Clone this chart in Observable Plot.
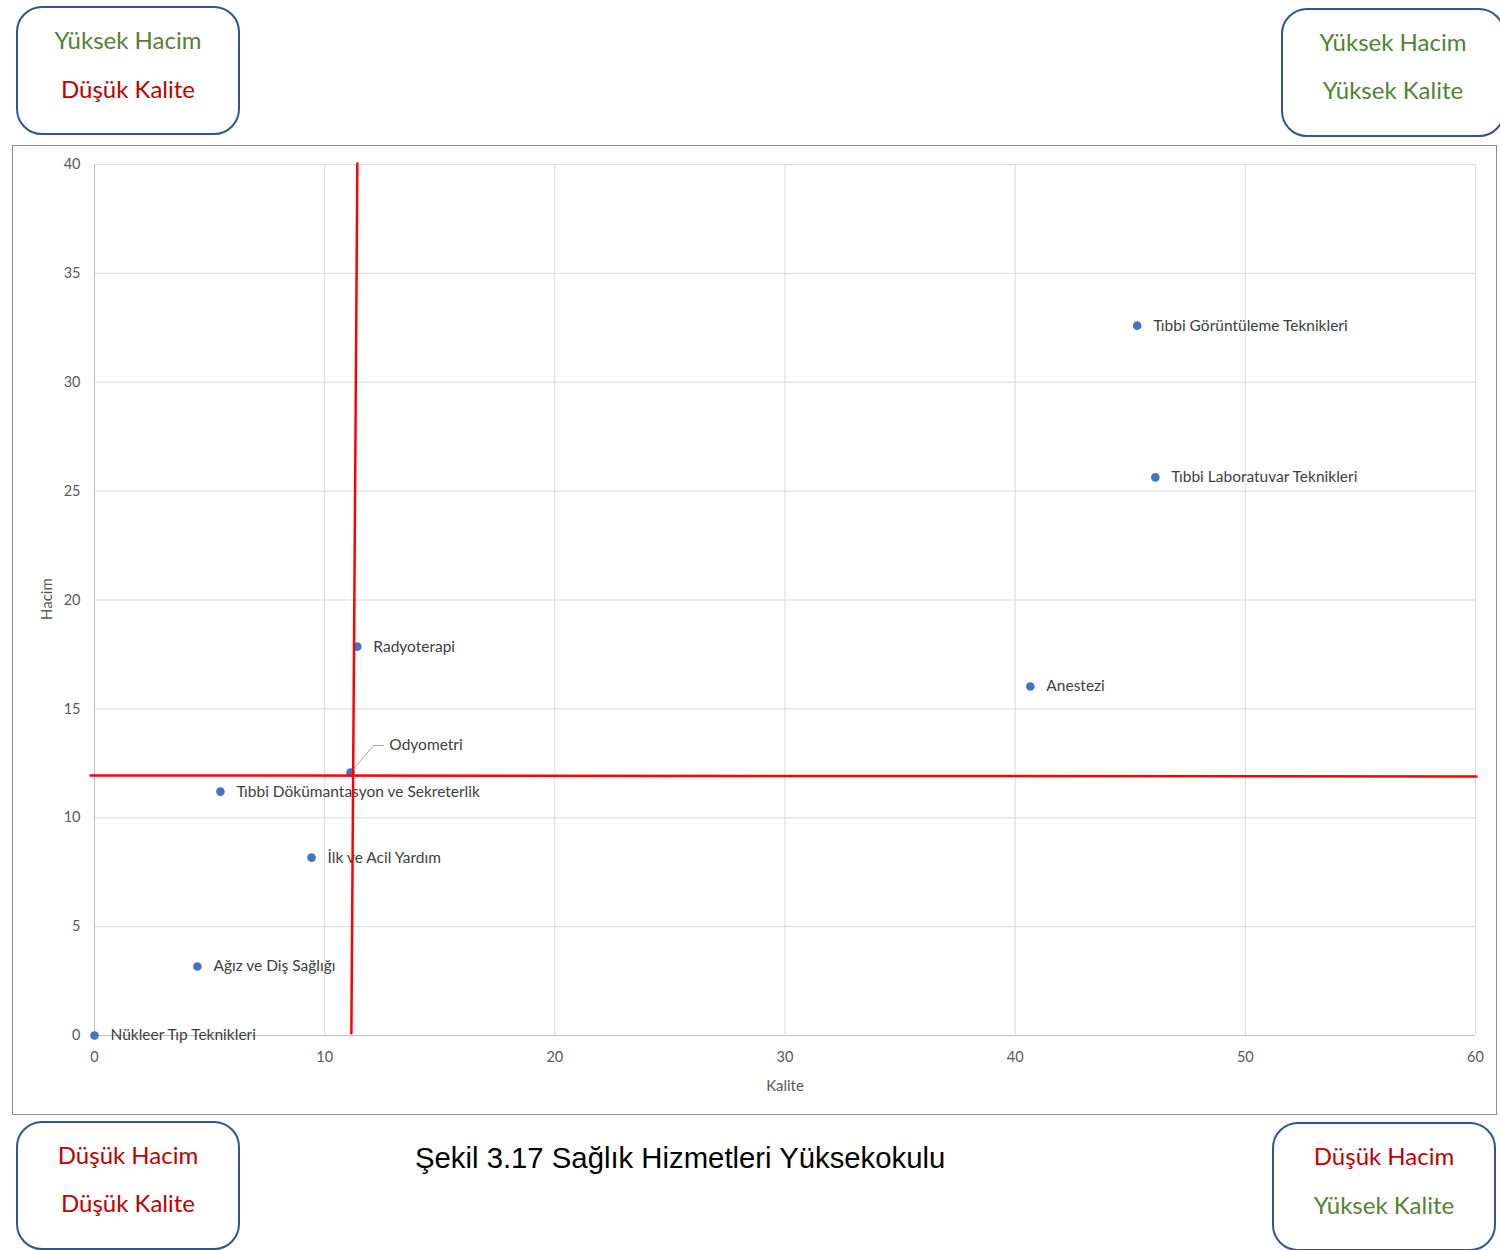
<!DOCTYPE html>
<html>
<head>
<meta charset="utf-8">
<script src="https://cdn.jsdelivr.net/npm/d3@7"></script>
<script src="https://cdn.jsdelivr.net/npm/@observablehq/plot@0.6"></script>
<style>
  html, body { margin: 0; padding: 0; background: #fff; }
  #page { position: relative; width: 1500px; height: 1250px; overflow: hidden; font-family: Lato, "Open Sans", sans-serif; }
  #frame { position: absolute; left: 12px; top: 145px; width: 1485px; height: 970px; border: 1px solid #8c8c8c; box-sizing: border-box; }
  #chart { position: absolute; left: 12px; top: 145px; }
  .box { position: absolute; width: 224px; height: 129px; border: 2px solid #2F5597; border-radius: 26px; background: #fff; box-sizing: border-box; font-family: Lato, "Open Sans", sans-serif; font-size: 24px; text-align: center; }
  .box div { position: absolute; left: 0; right: 0; }
  .green { color: #538135; }
  .red { color: #C00000; }
  #caption { position: absolute; left: 415px; top: 1141px; font-family: "Liberation Sans", Arial, sans-serif; font-size: 29.3px; color: #000; white-space: nowrap; }
</style>
</head>
<body>
<div id="page">
  <div id="frame"></div>
  <div id="chart"></div>
  <div class="box" style="left:16px; top:6px;"><div class="green" style="top:17px">Yüksek Hacim</div><div class="red" style="top:66px">Düşük Kalite</div></div>
  <div class="box" style="left:1281px; top:8px;"><div class="green" style="top:17px">Yüksek Hacim</div><div class="green" style="top:65px">Yüksek Kalite</div></div>
  <div class="box" style="left:16px; top:1121px;"><div class="red" style="top:17px">Düşük Hacim</div><div class="red" style="top:65px">Düşük Kalite</div></div>
  <div class="box" style="left:1272px; top:1122px;"><div class="red" style="top:17px">Düşük Hacim</div><div class="green" style="top:66px">Yüksek Kalite</div></div>
  <div id="caption">Şekil 3.17 Sağlık Hizmetleri Yüksekokulu</div>
</div>
<script>
// ---- data ----
const programs = ["Nükleer Tıp Teknikleri", "Ağız ve Diş Sağlığı", "İlk ve Acil Yardım", "Tıbbi Dökümantasyon ve Sekreterlik", "Odyometri", "Radyoterapi", "Anestezi", "Tıbbi Laboratuvar Teknikleri", "Tıbbi Görüntüleme Teknikleri"];
const kalite = [0, 4.47, 9.43, 5.47, 11.12, 11.42, 40.66, 46.09, 45.3];
const hacim = [0, 3.17, 8.17, 11.2, 12.08, 17.86, 16.03, 25.63, 32.6];
const xTicks = [0, 10, 20, 30, 40, 50, 60];
const yTicks = [0, 5, 10, 15, 20, 25, 30, 35, 40];
// hand-drawn red divider lines (data units)
const vLineKalite = [11.42, 11.16];
const vLineHacim = [40.05, 0.1];
const hLineKalite = [-0.17, 60.04];
const hLineHacim = [11.94, 11.9];
// moved label for Odyometri (data units) and its leader line
const odyLabelKalite = [12.12, 12.55];
const odyLabelHacim = [13.32, 13.32];

const points = programs.map((name, i) => ({name, kalite: kalite[i], hacim: hacim[i]}));
const vLine = vLineKalite.map((k, i) => ({k, h: vLineHacim[i]}));
const hLine = hLineKalite.map((k, i) => ({k, h: hLineHacim[i]}));
const ody = points.find(d => d.name === "Odyometri");
const leader = [{k: ody.kalite, h: ody.hacim}, {k: odyLabelKalite[0], h: odyLabelHacim[0]}, {k: odyLabelKalite[1], h: odyLabelHacim[1]}];

const font = "Lato, 'Open Sans', sans-serif";
const labelSize = 15.5;
const chart = Plot.plot({
  width: 1485,
  height: 970,
  marginLeft: 82,
  marginRight: 22,
  marginTop: 19,
  marginBottom: 80,
  style: {fontFamily: font, fontSize: "14px", background: "transparent", overflow: "visible"},
  x: {domain: [0, 60]},
  y: {domain: [0, 40]},
  marks: [
    Plot.gridX(xTicks, {stroke: "#d9d9d9", strokeOpacity: 1, strokeWidth: 1}),
    Plot.gridY(yTicks, {stroke: "#d9d9d9", strokeOpacity: 1, strokeWidth: 1}),
    Plot.ruleX([0], {stroke: "#bfbfbf", strokeWidth: 1}),
    Plot.ruleY([0], {stroke: "#bfbfbf", strokeWidth: 1}),
    Plot.axisX(xTicks, {tickSize: 0, tickPadding: 16, fill: "#595959", fontSize: 14.5, label: null}),
    Plot.axisY(yTicks, {tickSize: 0, tickPadding: 14, fill: "#595959", fontSize: 14.5, label: null}),
    Plot.text(["Kalite"], {frameAnchor: "bottom", dy: 55, fill: "#595959", fontSize: 15}),
    Plot.text(["Hacim"], {frameAnchor: "left", dx: -47, dy: 20, rotate: -90, fill: "#595959", fontSize: 15}),
    Plot.line(leader, {x: "k", y: "h", stroke: "#a6a6a6", strokeWidth: 1}),
    Plot.dot(points, {x: "kalite", y: "hacim", r: 4.3, fill: "#4472C4", stroke: "none"}),
    Plot.text(points.filter(d => d.name !== "Odyometri"), {x: "kalite", y: "hacim", text: "name", textAnchor: "start", dx: 16, fill: "#404040", fontSize: labelSize}),
    Plot.text([ody], {x: () => odyLabelKalite[1], y: () => odyLabelHacim[1], text: "name", textAnchor: "start", dx: 6, fill: "#404040", fontSize: labelSize}),
    Plot.line(vLine, {x: "k", y: "h", stroke: "#FF0000", strokeWidth: 2.5}),
    Plot.line(hLine, {x: "k", y: "h", stroke: "#FF0000", strokeWidth: 2.5})
  ]
});
document.getElementById("chart").appendChild(chart);
</script>
</body>
</html>
